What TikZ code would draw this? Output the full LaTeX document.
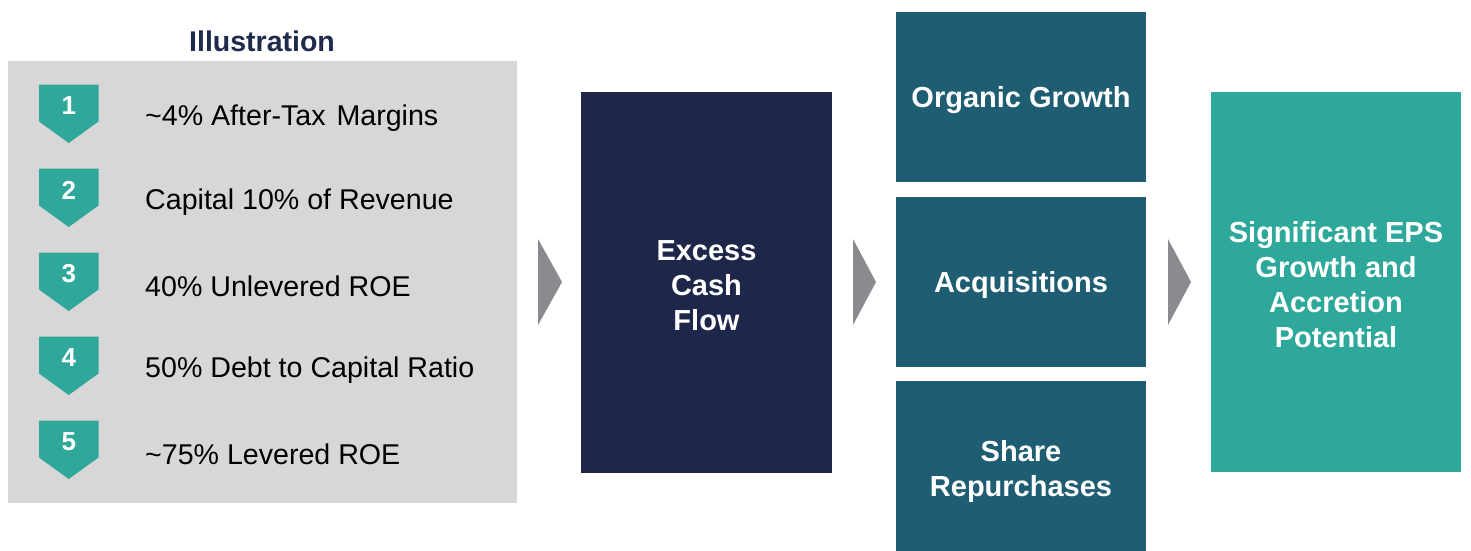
\documentclass[tikz,border=0pt]{standalone}
\usepackage{fontspec}
\setmainfont{Liberation Sans}
\definecolor{panel}{HTML}{D7D7D7}
\definecolor{badgecol}{HTML}{2FA79A}
\definecolor{navy}{HTML}{1E2749}
\definecolor{petrol}{HTML}{1F5E72}
\definecolor{tealbox}{HTML}{2EA89B}
\definecolor{chev}{HTML}{8B8B8F}
\definecolor{titlecol}{HTML}{1F2A4C}
\tikzset{
  box/.style={inner sep=0pt, draw=none, align=center, text=white,
    font=\bfseries\fontsize{29}{35}\selectfont},
  boxtext/.style={inner sep=0pt, align=center, text=white, yshift=-3pt,
    font=\bfseries\fontsize{29}{35}\selectfont},
  itemtext/.style={inner sep=0pt, anchor=west, text=black, yshift=-3pt,
    font=\fontsize{28.6}{35}\selectfont},
  numtext/.style={inner sep=0pt, text=white, font=\bfseries\fontsize{26}{30}\selectfont},
  chevron/.style={fill=chev},
}
\begin{document}
\begin{tikzpicture}[x=1pt,y=-1pt]
\useasboundingbox (0,0) rectangle (1471,550);
\fill[white] (0,0) rectangle (1471,550);

% left panel with the five steps
\node[inner sep=0pt, text=titlecol, font=\bfseries\fontsize{28.5}{35}\selectfont] (title) at (262,41) {Illustration};
\fill[panel] (8,61) rectangle (517,503);
\foreach \n/\txt [count=\i from 0] in {1/{\textasciitilde 4\% After-Tax \hspace{3pt}Margins},
    2/{Capital 10\% of Revenue},
    3/{40\% Unlevered ROE},
    4/{50\% Debt to Capital Ratio},
    5/{\textasciitilde 75\% Levered ROE}}{
  \pgfmathsetmacro{\top}{84.5+84*\i}
  \fill[badgecol] (39,\top) -- (98.5,\top) -- (98.5,\top+37) -- (68.75,\top+58.5) -- (39,\top+37) -- cycle;
  \node[numtext] (num\n) at (68.75,\top+21.5) {\n};
  \node[itemtext] (item\n) at (145,\top+30.5) {\txt};
}

% flow chevrons
\fill[chevron] (538,239) -- (562,282) -- (538,325) -- cycle;
\fill[chevron] (853,239) -- (876,282) -- (853,325) -- cycle;
\fill[chevron] (1168,239) -- (1191,282) -- (1168,325) -- cycle;

% boxes
\node[box, fill=navy, minimum width=251pt, minimum height=381pt] (ecf) at (706.5,282.5) {};
\node[box, fill=petrol, minimum width=250pt, minimum height=170pt] (org) at (1021,97) {};
\node[box, fill=petrol, minimum width=250pt, minimum height=170pt] (acq) at (1021,282) {};
\node[box, fill=petrol, minimum width=250pt, minimum height=170pt] (rep) at (1021,466) {};
\node[box, fill=tealbox, minimum width=250pt, minimum height=380pt] (eps) at (1336,282) {};

% box labels
\node[boxtext] (ecft) at (ecf) {Excess\\Cash\\Flow};
\node[boxtext] (orgt) at (org) {Organic Growth};
\node[boxtext] (acqt) at (acq) {Acquisitions};
\node[boxtext] (rept) at ([yshift=-2pt]rep.center) {Share\\Repurchases};
\node[boxtext] (epst) at (eps) {Significant EPS\\Growth and\\Accretion\\Potential};
\end{tikzpicture}
\end{document}
